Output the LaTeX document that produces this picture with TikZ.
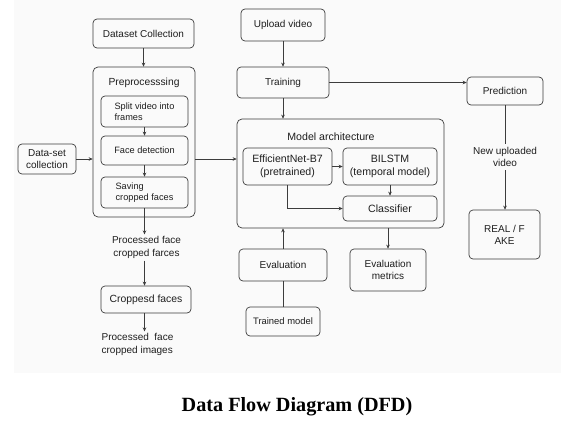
\documentclass[tikz,border=0pt]{standalone}
\usepackage{fontspec}
\setmainfont{Liberation Sans}
\newfontfamily\titlefont{Liberation Serif}
\usetikzlibrary{arrows.meta}
\definecolor{bgc}{HTML}{FAFAFA}
\definecolor{linec}{HTML}{3C3C3C}
\definecolor{txc}{HTML}{1E1E1E}
\tikzset{
  box/.style={draw=linec, line width=0.7pt, rounded corners=4pt, inner sep=0pt,
    text=txc, font=\fontsize{10}{12}\selectfont, align=center},
  smallbox/.style={box, font=\fontsize{9.2}{11.5}\selectfont},
  bigbox/.style={box, font=\fontsize{10.6}{12.5}\selectfont},
  outerbox/.style={draw=linec, line width=0.7pt, rounded corners=5pt, inner sep=0pt},
  lbl/.style={text=txc, font=\fontsize{10}{12.5}\selectfont, align=center, inner sep=2pt},
  conn/.style={draw=linec, line width=0.7pt},
  arr/.style={conn, -{Stealth[length=4pt,width=3.6pt]}}
}
\begin{document}
\begin{tikzpicture}[x=1pt,y=-1pt]
\useasboundingbox (0,0) rectangle (561,421);
\fill[bgc] (14,0) rectangle (561,373);

% left column
\node[box, minimum width=101pt, minimum height=29pt] (dsc) at (143.5,33.5) {Dataset Collection};
\node[outerbox, minimum width=102pt, minimum height=150pt] (pre) at (144,142) {};
\node[lbl, font=\fontsize{10.3}{12}\selectfont] (pret) at (144,83) {Preprocesssing};
\node[smallbox, minimum width=87pt, minimum height=31pt, align=left] (split) at (144.5,111.5) {Split video into\\frames};
\node[smallbox, minimum width=87pt, minimum height=29pt] (face) at (144.5,150.5) {Face detection};
\node[smallbox, minimum width=87pt, minimum height=31pt, align=left] (save) at (144.5,192.5) {Saving\\cropped faces};
\node[box, minimum width=58pt, minimum height=30pt] (dsc2) at (47,159) {Data-set\\collection};
\node[lbl] (l1) at (146.5,247.5) {Processed face\\cropped farces};
\node[box, font=\fontsize{10.4}{12}\selectfont, minimum width=90pt, minimum height=27pt] (crop) at (146,299.5) {Croppesd faces};
\node[lbl, align=left] (l2) at (137.5,344.5) {Processed\ \ face\\cropped images};

% middle column
\node[box, minimum width=84pt, minimum height=32pt] (up) at (283,25) {Upload video};
\node[box, minimum width=92pt, minimum height=31pt] (train) at (283,82.5) {Training};
\node[outerbox, minimum width=207pt, minimum height=109pt] (ma) at (340.5,173.5) {};
\node[lbl, font=\fontsize{10.6}{12}\selectfont] (mat) at (331,137) {Model architecture};
\node[bigbox, minimum width=89pt, minimum height=37pt] (eff) at (287.5,166.5) {EfficientNet-B7\\(pretrained)};
\node[bigbox, minimum width=94pt, minimum height=37pt] (bil) at (390,166.5) {BILSTM\\(temporal model)};
\node[bigbox, minimum width=94pt, minimum height=25pt] (cls) at (390,208.5) {Classifier};
\node[box, minimum width=88pt, minimum height=32pt] (eval) at (283,265) {Evaluation};
\node[smallbox, font=\fontsize{9.4}{11.5}\selectfont, minimum width=74pt, minimum height=29pt] (tm) at (283,321.5) {Trained model};
\node[box, minimum width=76pt, minimum height=42pt] (em) at (388,270) {Evaluation\\metrics};

% right column
\node[box, minimum width=76pt, minimum height=28pt] (pred) at (505,91) {Prediction};
\node[lbl, inner sep=3pt] (nu) at (505,157) {New uploaded\\video};
\node[box, minimum width=71pt, minimum height=49pt] (rf) at (504.5,234.5) {REAL / F\\AKE};

% title
\node[anchor=base, inner sep=0pt, text=black, font=\titlefont\bfseries\fontsize{20.2}{24}\selectfont] (title) at (297,411) {Data Flow Diagram (DFD)};

% connectors
\draw[arr] (dsc.south) -- (dsc.south |- pre.north);
\draw[arr] (split.south) -- (face.north);
\draw[arr] (face.south) -- (save.north);
\draw[arr] (dsc2.east) -- (dsc2.east -| pre.west);
\draw[arr] (pre.east |- dsc2.east) -- (ma.west |- dsc2.east);
\draw[arr] (save.south) -- (save.south |- l1.north);
\draw[arr] (l1.south -| save.south) -- (save.south |- crop.north);
\draw[arr] (crop.south -| save.south) -- (save.south |- l2.north);

\draw[arr] (up.south) -- (train.north);
\draw[arr] (train.south) -- (train.south |- ma.north);
\draw[arr] (train.east) -- (train.east -| pred.west);
\draw[arr] (eff.east) -- (eff.east -| bil.west);
\draw[arr] (bil.south) -- (cls.north);
\draw[arr] (eff.south) |- (cls.west);
\draw[arr] (eval.north) -- (eval.north |- ma.south);
\draw[conn] (tm.north) -- (eval.south);
\draw[arr] (em.north |- ma.south) -- (em.north);

\draw[conn] (pred.south) -- (pred.south |- nu.north);
\draw[arr] (pred.south |- nu.south) -- (pred.south |- rf.north);
\end{tikzpicture}
\end{document}
